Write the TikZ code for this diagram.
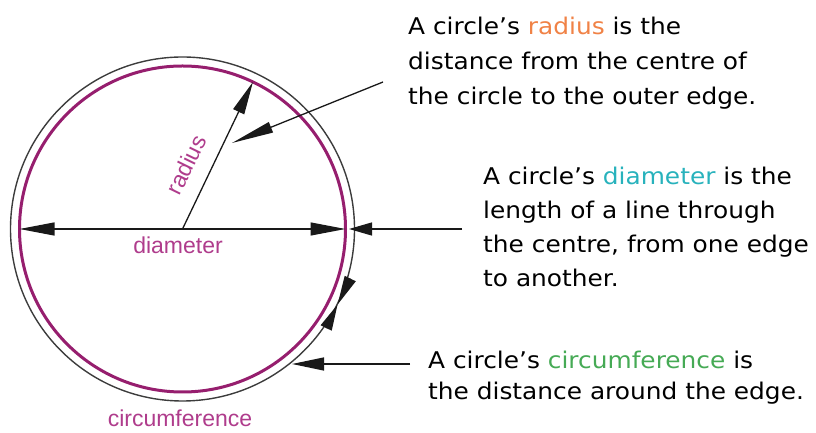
\documentclass[tikz,border=0pt]{standalone}
\usepackage{fontspec}
\usetikzlibrary{arrows.meta,calc}
\newfontfamily\labelfont{Liberation Sans}
\newfontfamily\handfont[FakeStretch=1.08]{DejaVu Sans}
\definecolor{circmag}{RGB}{150,30,110}
\definecolor{labmag}{RGB}{175,60,140}
\definecolor{radorange}{RGB}{240,130,70}
\definecolor{diateal}{RGB}{40,178,188}
\definecolor{circgreen}{RGB}{70,170,85}
\definecolor{lineblk}{RGB}{25,25,25}
\begin{document}
\begin{tikzpicture}[x=1pt,y=1pt,
  bigtip/.style={-{Triangle[length=33pt,width=12pt]}},
  conn/.style={draw=lineblk,line width=1.3pt},
  maglabel/.style={text=labmag,font=\labelfont\fontsize{23}{27}\selectfont,inner sep=0pt},
  handtext/.style={align=left,anchor=west,inner sep=0pt,text=black}]
\useasboundingbox (0,0) rectangle (816,433);
\coordinate (C) at (182.5,204);
% circles
\draw[draw=lineblk!85,line width=1.4pt] (C) circle[radius=172];
\draw[draw=circmag,line width=3pt] (C) circle[radius=163];
% diameter
\coordinate (DL) at ($(C)+(-163,0)$);
\coordinate (DR) at ($(C)+(163,0)$);
\draw[conn,{Triangle[length=35pt,width=13pt]}-{Triangle[length=35pt,width=13pt]}] (DL) -- (DR);
% radius
\coordinate (RE) at ($(C)+(64.4:163)$);
\draw[conn,bigtip] (C) -- (RE);
% labels
\node[maglabel] (dlab) at (178,188) {diameter};
\node[maglabel,rotate=64] (rlab) at (186,268) {radius};
\node[maglabel] (clab) at (180,15) {circumference};
% circumference bowtie
\coordinate (M) at ($(C)+(-26:172.5)$);
\coordinate (MA) at ($(M)+(64:29)$);
\coordinate (MB) at ($(M)+(244:26)$);
\draw[conn,-{Triangle[length=29pt,width=12pt]}] (MA) -- (M);
\draw[conn,-{Triangle[length=26pt,width=12pt]}] (MB) -- (M);
% pointers
\coordinate (P1) at (383,351);
\coordinate (P1t) at (232,290);
\draw[conn,-{Triangle[length=42pt,width=11pt]}] (P1) -- (P1t);
\coordinate (P2) at (462,204);
\coordinate (P2t) at (349,204);
\draw[conn,-{Triangle[length=23pt,width=13pt]}] (P2) -- (P2t);
\coordinate (P3) at (410,69);
\coordinate (P3t) at (292,69);
\draw[conn,-{Triangle[length=32pt,width=13pt]}] (P3) -- (P3t);
% texts
\node[handtext,font=\handfont\fontsize{23}{35}\selectfont] (t1) at (408,370)
  {A circle’s \textcolor{radorange}{radius} is the\\distance from the centre of\\the circle to the outer edge.};
\node[handtext,font=\handfont\fontsize{23}{34}\selectfont] (t2) at (483,206.5)
  {A circle’s \textcolor{diateal}{diameter} is the\\length of a line through\\the centre, from one edge\\to another.};
\node[handtext,font=\handfont\fontsize{23}{31}\selectfont] (t3) at (428,55)
  {A circle’s \textcolor{circgreen}{circumference} is\\the distance around the edge.};
\end{tikzpicture}
\end{document}
